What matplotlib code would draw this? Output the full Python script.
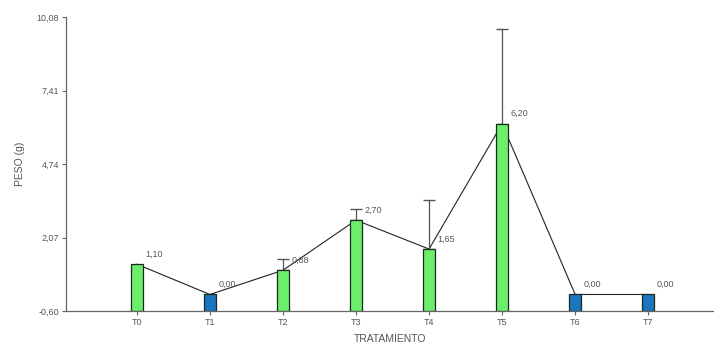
import numpy as np
import matplotlib
matplotlib.use("Agg")
import matplotlib.pyplot as plt

plt.rcParams['font.family'] = ['Liberation Sans', 'DejaVu Sans']

tratamientos = ['T0', 'T1', 'T2', 'T3', 'T4', 'T5', 'T6', 'T7']
peso = [1.10, 0.00, 0.88, 2.70, 1.65, 6.20, 0.00, 0.00]
peso_sup = [1.10, 0.00, 1.29, 3.11, 3.44, 9.65, 0.00, 0.00]  # top of error bars
y_ticks = [-0.60, 2.07, 4.74, 7.41, 10.08]
base = -0.60

x = np.arange(len(tratamientos))
peso = np.array(peso)
err = np.array(peso_sup) - peso
colores = ['#6cee6c' if v > 0 else '#1b76c0' for v in peso]

fig = plt.figure(figsize=(7.14, 3.43), dpi=100)
ax = fig.add_axes([0.0924, 0.0933, 0.9076, 0.8571])

# line joining the means, drawn behind the bars
ax.plot(x, peso, color='#222222', lw=0.8, zorder=1)

# upper error bars only, where there is spread
con_err = err > 0
ax.errorbar(x[con_err], peso[con_err],
            yerr=[np.zeros(con_err.sum()), err[con_err]], fmt='none',
            ecolor='#555555', elinewidth=0.9, capsize=4.4, capthick=1.0, zorder=1)

ax.bar(x, peso - base, bottom=base, width=0.16, color=colores,
       edgecolor='#1a2a1a', linewidth=0.9, zorder=2)

for xi, v in zip(x, peso):
    ax.annotate(f'{v:.2f}'.replace('.', ','), (xi + 0.08, v),
                xytext=(2, 4), textcoords='offset points',
                fontsize=6.5, color='#555555', ha='left', va='bottom')

ax.set_xlim(-0.97, 7.9)
ax.set_ylim(base, 10.08)
ax.set_xticks(x)
ax.set_xticklabels(tratamientos)
ax.set_yticks(y_ticks)
ax.set_yticklabels([f'{t:.2f}'.replace('.', ',') for t in y_ticks])

for s in ['top', 'right']:
    ax.spines[s].set_visible(False)
for s in ['left', 'bottom']:
    ax.spines[s].set_color('#666666')
    ax.spines[s].set_linewidth(0.9)

ax.tick_params(axis='both', labelsize=6.5, labelcolor='#555555',
               color='#666666', length=3, width=0.8, pad=2)

ax.set_xlabel('TRATAMIENTO', fontsize=7.5, color='#555555', labelpad=5)
ax.set_ylabel('PESO (g)', fontsize=7.5, color='#555555', labelpad=8)

fig.savefig('out.png', dpi=100)
